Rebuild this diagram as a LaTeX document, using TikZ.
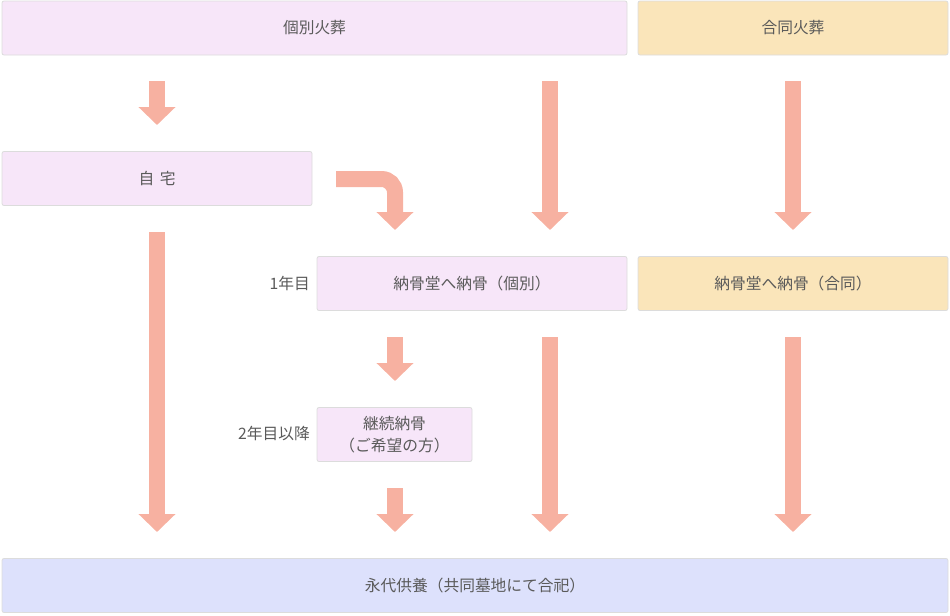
\documentclass[tikz,border=0pt]{standalone}
\usepackage{fontspec}
\setmainfont{Noto Sans CJK JP}
\usetikzlibrary{arrows.meta}
\definecolor{pinkc}{HTML}{F7E6F9}
\definecolor{yelc}{HTML}{FAE5BA}
\definecolor{bluec}{HTML}{DDE1FC}
\definecolor{edgec}{HTML}{DCDCDC}
\definecolor{arrc}{HTML}{F7B1A1}
\definecolor{txtc}{HTML}{5A5A5A}
\begin{document}
\begin{tikzpicture}[x=0.75pt,y=-0.75pt,
  box/.style={draw=edgec,line width=0.6pt,rounded corners=1.5pt,inner sep=0pt,
    font=\fontsize{11.8pt}{17pt}\selectfont,text=txtc,align=center},
  lbl/.style={font=\fontsize{11.8pt}{17pt}\selectfont,text=txtc,anchor=east,inner sep=0pt},
  bigarrow/.style={draw=arrc,line width=12pt,
    -{Triangle[width=27pt,length=13.5pt]}}]
\useasboundingbox (0,0) rectangle (950,615);
% boxes
\node[box,fill=pinkc,minimum width=468.75pt,minimum height=40.5pt] (kobetsu) at (314.5,28) {個別火葬};
\node[box,fill=yelc,minimum width=232.5pt,minimum height=40.5pt] (godo) at (793,28) {合同火葬};
\node[box,fill=pinkc,minimum width=232.5pt,minimum height=40.5pt] (jitaku) at (157,178.5) {自\hspace{0.35em}宅};
\node[box,fill=pinkc,minimum width=232.5pt,minimum height=40.5pt] (nkobetsu) at (472,283.5) {納骨堂へ納骨（個別）};
\node[box,fill=yelc,minimum width=232.5pt,minimum height=40.5pt] (ngodo) at (793,283.5) {納骨堂へ納骨（合同）};
\node[box,fill=pinkc,minimum width=116.25pt,minimum height=40.5pt] (keizoku) at (394.5,434.5) {継続納骨\\（ご希望の方）};
\node[box,fill=bluec,minimum width=709.5pt,minimum height=40.5pt] (eitai) at (475,585.5) {永代供養（共同墓地にて合祀）};
% labels
\node[lbl] (y1) at (310,283) {1年目};
\node[lbl] (y2) at (310,434) {2年目以降};
% arrow coordinates
\coordinate (a1s) at (157,81);   \coordinate (a1e) at (157,125);
\coordinate (a2s) at (550,81);   \coordinate (a2e) at (550,230);
\coordinate (a3s) at (793,81);   \coordinate (a3e) at (793,230);
\coordinate (b1s) at (336,179);  \coordinate (b1e) at (395,230);
\coordinate (a4s) at (157,232);  \coordinate (a4e) at (157,532);
\coordinate (a5s) at (395,337);  \coordinate (a5e) at (395,381);
\coordinate (a6s) at (550,337);  \coordinate (a6e) at (550,532);
\coordinate (a7s) at (793,337);  \coordinate (a7e) at (793,532);
\coordinate (a8s) at (395,488);  \coordinate (a8e) at (395,532);
% arrows
\draw[bigarrow] (a1s) -- (a1e);
\draw[bigarrow] (a2s) -- (a2e);
\draw[bigarrow] (a3s) -- (a3e);
\draw[bigarrow,rounded corners=10pt] (b1s) -| (b1e);
\draw[bigarrow] (a4s) -- (a4e);
\draw[bigarrow] (a5s) -- (a5e);
\draw[bigarrow] (a6s) -- (a6e);
\draw[bigarrow] (a7s) -- (a7e);
\draw[bigarrow] (a8s) -- (a8e);
\end{tikzpicture}
\end{document}
